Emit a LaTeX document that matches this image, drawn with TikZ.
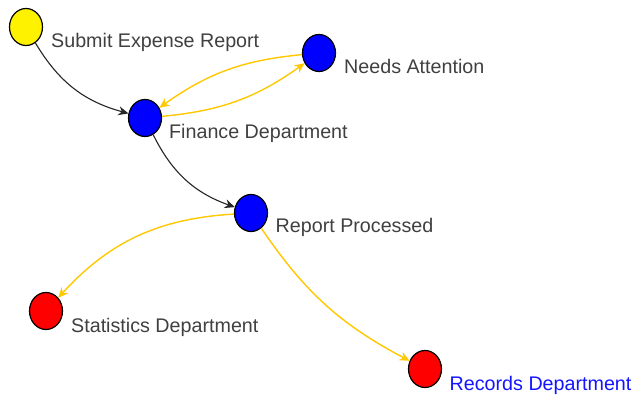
\documentclass[tikz,border=0pt]{standalone}
\usepackage{fontspec}
\setmainfont{Liberation Sans}
\usetikzlibrary{arrows.meta,shapes.geometric}

\definecolor{flowgold}{RGB}{255,200,0}
\definecolor{labelgray}{RGB}{64,64,64}
\definecolor{linkblue}{RGB}{20,20,255}

\tikzset{
  state/.style={ellipse, draw=black, line width=1.2pt, minimum width=33pt, minimum height=37pt, inner sep=0pt},
  lbl/.style={anchor=base west, inner sep=0pt, text=labelgray, font=\fontsize{19.7pt}{22pt}\selectfont},
  pass/.style={-{Stealth[length=10pt,width=9pt]}, line width=1.1pt, black!85},
  route/.style={-{Stealth[length=10pt,width=9pt]}, line width=1.4pt, flowgold},
}

\begin{document}
\begin{tikzpicture}[x=1pt,y=1pt]

\useasboundingbox (0,0) rectangle (637,394);

\node[state, fill=yellow] (submit) at (26,367) {};
\node[state, fill=blue] (finance) at (145,276) {};
\node[state, fill=blue] (needs) at (319,341) {};
\node[state, fill=blue] (report) at (251,181) {};
\node[state, fill=red] (stats) at (46,83) {};
\node[state, fill=red] (records) at (425,25) {};

\node[lbl] (submit-l) at ([shift={(25,-21)}]submit.center) {Submit Expense Report};
\node[lbl] (finance-l) at ([shift={(24,-21)}]finance.center) {Finance Department};
\node[lbl] (needs-l) at ([shift={(25,-21)}]needs.center) {Needs Attention};
\node[lbl] (report-l) at ([shift={(24.5,-20)}]report.center) {Report Processed};
\node[lbl] (stats-l) at ([shift={(25,-21)}]stats.center) {Statistics Department};
\node[lbl, text=linkblue] (records-l) at ([shift={(24.5,-21)}]records.center) {Records Department};

\draw[pass] (submit) to[bend right=22] (finance);
\draw[pass] (finance) to[bend right=22] (report);
\draw[route] (finance) to[bend right=15] (needs);
\draw[route] (needs) to[bend right=15] (finance);
\draw[route] (report) to[bend right=22] (stats);
\draw[route] (report) to[bend right=14] (records);

\end{tikzpicture}
\end{document}
